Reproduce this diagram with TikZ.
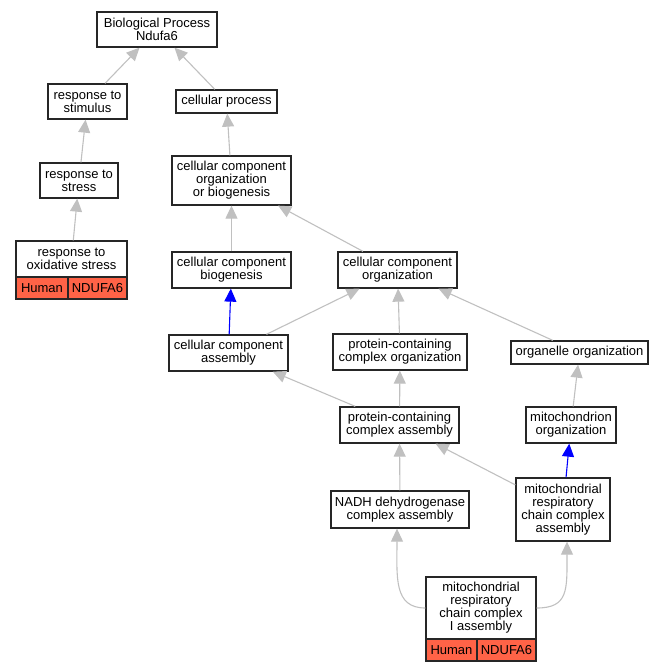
\documentclass[tikz,border=0pt]{standalone}
\usepackage{fontspec}
\setmainfont{Liberation Sans}
\usetikzlibrary{arrows.meta}

\definecolor{isagray}{HTML}{C0C0C0}
\definecolor{hitred}{HTML}{FF6347}

\tikzset{
  term/.style={draw=black!85, line width=1.3pt, fill=white, align=center,
    inner sep=0pt, font=\fontsize{13}{13}\selectfont},
  hit/.style={term, fill=hitred},
  isa/.style={draw=isagray, line width=1.1pt,
    -{Triangle[width=12pt,length=13pt]}},
  partof/.style={isa, draw=blue}
}

\begin{document}
\begin{tikzpicture}[x=1pt,y=-1pt]
  \useasboundingbox (0,0) rectangle (664,672);

  % Terms
  \node[term, minimum width=120pt, minimum height=35pt] (bp) at (157,29.5) {Biological Process\\Ndufa6};
  \node[term, minimum width=79pt, minimum height=35pt] (stimulus) at (87.5,101.5) {response to\\stimulus};
  \node[term, minimum width=101pt, minimum height=23pt] (cellproc) at (226.5,101.5) {cellular process};
  \node[term, minimum width=78pt, minimum height=35pt] (stress) at (79,180.5) {response to\\stress};
  \node[term, minimum width=119pt, minimum height=49pt] (ccob) at (231.5,180.5) {cellular component\\organization\\or biogenesis};
  \node[term, minimum width=119pt, minimum height=36pt] (ccbio) at (231.5,270) {cellular component\\biogenesis};
  \node[term, minimum width=119pt, minimum height=36pt] (ccorg) at (397.5,270) {cellular component\\organization};
  \node[term, minimum width=119pt, minimum height=36pt] (ccasm) at (228.5,353) {cellular component\\assembly};
  \node[term, minimum width=134pt, minimum height=36pt] (pcco) at (400,352) {protein-containing\\complex organization};
  \node[term, minimum width=137pt, minimum height=23pt] (organelle) at (579.5,352.5) {organelle organization};
  \node[term, minimum width=119pt, minimum height=36pt] (pcca) at (399.5,425) {protein-containing\\complex assembly};
  \node[term, minimum width=90pt, minimum height=36pt] (mitoorg) at (571,425) {mitochondrion\\organization};
  \node[term, minimum width=138pt, minimum height=37pt] (nadh) at (400,509.5) {NADH dehydrogenase\\complex assembly};
  \node[term, minimum width=94pt, minimum height=63pt] (mrcc) at (563,509.5) {mitochondrial\\respiratory\\chain complex\\assembly};

  % Annotated terms
  \node[term, minimum width=111pt, minimum height=36pt] (oxid) at (71.5,259) {response to\\oxidative stress};
  \node[hit, minimum width=52pt, minimum height=22pt] (oxidhuman) at (42,288) {Human};
  \node[hit, minimum width=59pt, minimum height=22pt] (oxidgene) at (97.5,288) {NDUFA6};
  \node[term, minimum width=110pt, minimum height=62pt] (mrcci) at (481,608) {mitochondrial\\respiratory\\chain complex\\I assembly};
  \node[hit, minimum width=51pt, minimum height=22pt] (mrccihuman) at (451.5,650) {Human};
  \node[hit, minimum width=59pt, minimum height=22pt] (mrccigene) at (506.5,650) {NDUFA6};

  % Edges
  \draw[isa] (stimulus) -- (bp);
  \draw[isa] (cellproc) -- (bp);
  \draw[isa] (stress) -- (stimulus);
  \draw[isa] (ccob) -- (cellproc);
  \draw[isa] (oxid) -- (stress);
  \draw[isa] (ccbio) -- (ccob);
  \draw[isa] (ccorg) -- (ccob);
  \draw[partof] (ccasm) -- (ccbio);
  \draw[isa] (ccasm) -- (ccorg);
  \draw[isa] (pcco) -- (ccorg);
  \draw[isa] (organelle) -- (ccorg);
  \draw[isa] (pcca) -- (ccasm);
  \draw[isa] (pcca) -- (pcco);
  \draw[isa] (mitoorg) -- (organelle);
  \draw[isa] (nadh) -- (pcca);
  \draw[isa] (mrcc) -- (pcca);
  \draw[partof] (mrcc) -- (mitoorg);
  \draw[isa] (mrcci.west) .. controls +(-32,0) and +(0,48) .. ([xshift=-3pt]nadh.south);
  \draw[isa] (mrcci.east) .. controls +(32,0) and +(0,48) .. ([xshift=4pt]mrcc.south);
\end{tikzpicture}
\end{document}
